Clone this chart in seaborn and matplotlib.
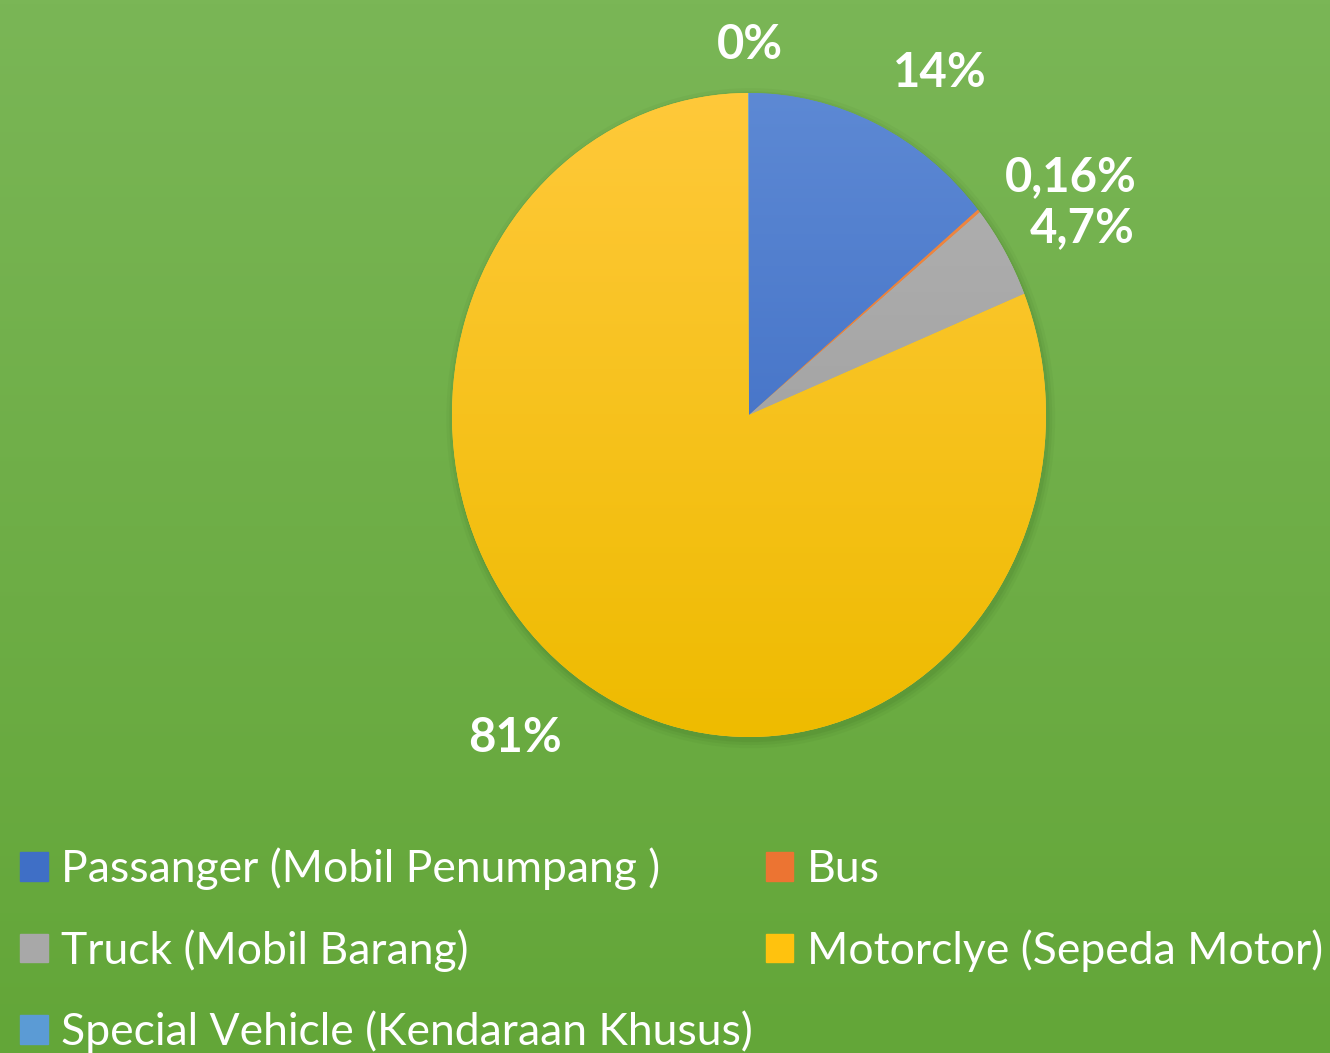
import matplotlib.pyplot as plt
import matplotlib.patches as mpatches
import numpy as np
import seaborn as sns

# vehicle share (percent), clockwise from 12 o'clock
categories = ['Passanger (Mobil Penumpang )', 'Bus', 'Truck (Mobil Barang)',
              'Motorclye (Sepeda Motor)', 'Special Vehicle (Kendaraan Khusus)']
shares = [14.0, 0.16, 4.7, 81.1, 0.04]
pct_labels = ['14%', '0,16%', '4,7%', '81%', '0%']

# slice fills: (top, bottom) of the vertical gradient
fills = [('#5d89d4', '#3464bf'), ('#f08a45', '#e8702a'), ('#b2b2b2', '#989898'),
         ('#ffc93a', '#eebb00'), ('#6aa6dc', '#4f90cf')]
legend_cols = ['#3f6fc6', '#ec7432', '#a8a8a8', '#ffc20e', '#5b9bd5']

sns.set_style('white')
plt.rcParams['font.family'] = ['Lato', 'DejaVu Sans']

fig = plt.figure(figsize=(13.3, 10.53), dpi=100)

# green gradient background
bg = fig.add_axes([0, 0, 1, 1], zorder=0)
grad = np.linspace(0, 1, 256)[:, None]
top, bot = np.array([122, 182, 86]) / 255, np.array([99, 166, 56]) / 255
bg.imshow(top + (bot - top) * grad[:, :, None], aspect='auto', extent=[0, 1, 0, 1])
bg.set_axis_off()

ax = fig.add_axes([0.2282, 0.1472, 0.6699, 0.9174], zorder=1)
ax.patch.set_alpha(0)

# soft shadow under the pie
for k, a in [(1.025, 0.05), (1.015, 0.07), (1.006, 0.09)]:
    ax.add_patch(mpatches.Ellipse((0.006, -0.01), 2 * k, 2 * k, color='#2d5a18', alpha=a, lw=0))

wedges, _ = ax.pie(shares, startangle=90, counterclock=False, radius=1,
                   colors=[f[0] for f in fills], wedgeprops=dict(linewidth=0))

for w, (c_top, c_bot) in zip(wedges, fills):
    g = np.linspace(0, 1, 200)[:, None, None]
    ct, cb = np.array(plt.matplotlib.colors.to_rgb(c_top)), np.array(plt.matplotlib.colors.to_rgb(c_bot))
    im = ax.imshow(np.repeat(ct + (cb - ct) * g, 2, axis=1), extent=[-1, 1, -1, 1],
                   aspect='auto', zorder=w.get_zorder() + 0.1)
    im.set_clip_path(w)

# label placement (radius factor, angle nudge in degrees)
lab_r = [1.24, 1.31, 1.265, 1.275, 1.15]
lab_da = [-6, -5, -3.2, -4.3, -0.3]
for w, txt, r, da in zip(wedges, pct_labels, lab_r, lab_da):
    mid = np.deg2rad((w.theta1 + w.theta2) / 2 + da)
    ax.text(r * np.cos(mid), r * np.sin(mid), txt, ha='center', va='center',
            color='white', fontsize=34, fontweight='bold', clip_on=False)

ax.set_aspect('auto')
ax.set_xlim(-1.5, 1.5)
ax.set_ylim(-1.5, 1.5)
ax.set_axis_off()

handles = [mpatches.Patch(color=c, label=l) for c, l in zip(legend_cols, categories)]
order = [0, 2, 4, 1, 3]
leg = fig.legend([handles[i] for i in order], [categories[i] for i in order],
                 loc='upper left', bbox_to_anchor=(0.015, 0.195), ncol=2,
                 frameon=False, fontsize=32, handlelength=0.62, handleheight=0.62,
                 handletextpad=0.3, labelspacing=0.87, columnspacing=0.3,
                 borderaxespad=0, borderpad=0)
for t in leg.get_texts():
    t.set_color('white')

fig.savefig('out.png', dpi=100)
